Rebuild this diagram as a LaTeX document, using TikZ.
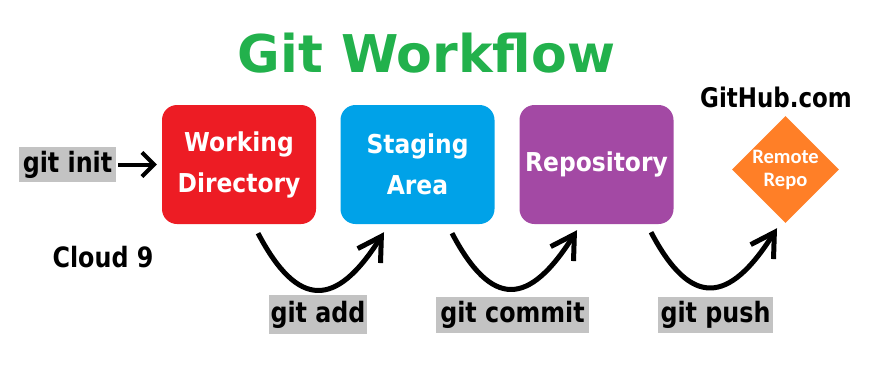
\documentclass[tikz,border=0pt]{standalone}
\usepackage{fontspec}
\setmainfont{DejaVu Sans}
\newfontfamily\narrowfont{DejaVu Sans}[FakeStretch=0.85]
\newfontfamily\boxfont{DejaVu Sans}[FakeStretch=0.9]
\newfontfamily\remotefont{Carlito}
\usetikzlibrary{arrows.meta,shapes.geometric}

\definecolor{wdred}{HTML}{ED1C24}
\definecolor{sablue}{HTML}{00A2E8}
\definecolor{repopurple}{HTML}{A349A4}
\definecolor{remoteorange}{HTML}{FF7F27}
\definecolor{titlegreen}{HTML}{22B14C}
\definecolor{cmdgray}{HTML}{C3C3C3}

\begin{document}
\begin{tikzpicture}[x=1pt,y=-1pt,
  stagebox/.style={fill=#1, rounded corners=15pt, minimum width=154pt,
    minimum height=119pt, inner sep=0pt, text=white, align=center,
    font=\boxfont\bfseries\fontsize{26}{41}\selectfont},
  cmdlabel/.style={fill=cmdgray, inner sep=0pt, text=black,
    font=\narrowfont\bfseries\fontsize{28}{30}\selectfont},
  plainlabel/.style={anchor=base, inner sep=0pt, text=black,
    font=\narrowfont\bfseries\fontsize{28}{30}\selectfont},
  flow/.style={line width=5pt, -{Straight Barb[length=23pt,width=27pt]}},
  initflow/.style={line width=4pt, -{Straight Barb[length=12pt,width=24pt]}},
]
\useasboundingbox (0,0) rectangle (877,364);
\fill[white] (0,0) rectangle (877,364);

% heading
\node[anchor=base, inner sep=0pt, text=titlegreen,
  font=\bfseries\fontsize{52}{60}\selectfont] (title) at (426.5,72) {Git Workflow};

% the three local stages
\node[stagebox=wdred] (wd) at (239,164.5) {Working\\Directory};
\node[stagebox=sablue] (sa) at (417.5,164.5) {Staging\\Area};
\node[stagebox=repopurple] (repo) at (596.5,164.5) {Repository};

% remote side
\node[diamond, fill=remoteorange, aspect=1, minimum width=107pt,
  minimum height=107pt, inner sep=0pt, text=white, align=center,
  font=\remotefont\bfseries\fontsize{20.5}{23}\selectfont] (remote) at (785.5,169.5) {Remote\\Repo};
\node[plainlabel, font=\narrowfont\bfseries\fontsize{27}{30}\selectfont]
  (github) at (776,107) {GitHub.com};

% side labels
\node[plainlabel] (cloud) at (103,267) {Cloud 9};

% commands
\node[cmdlabel, minimum width=97pt, minimum height=35pt] (init) at (67.5,164.5) {git init};
\node[cmdlabel, minimum width=98pt, minimum height=39pt] (add) at (318,314.5) {git add};
\node[cmdlabel, minimum width=153pt, minimum height=36pt] (commit) at (512.5,315) {git commit};
\node[cmdlabel, minimum width=115pt, minimum height=36pt] (push) at (715.5,315) {git push};

% connectors
\draw[initflow] ([xshift=2pt]init.east) -- ([xshift=-5pt]wd.west);
\draw[flow] ([shift={(19,9)}]wd.south) .. controls +(40,76) and +(-48,76) .. ([shift={(-33.5,8)}]sa.south);
\draw[flow] ([shift={(34.5,9)}]sa.south) .. controls +(40,76) and +(-48,76) .. ([shift={(-19.5,6)}]repo.south);
\draw[flow] ([shift={(54.5,8)}]repo.south) .. controls +(40,76) and +(-48,76) .. ([shift={(-8.5,5)}]remote.south);
\end{tikzpicture}
\end{document}
